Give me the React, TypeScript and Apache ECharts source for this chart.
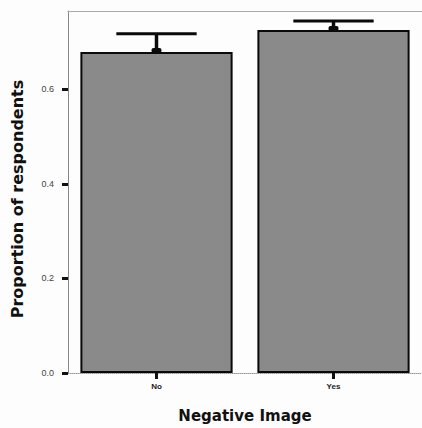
import React, { useEffect, useRef } from "react";
import * as echarts from "echarts";

const categories = ["No", "Yes"];
const proportions = [0.679, 0.726];
const errorUpper = [0.718, 0.745];
const yTicks = [0, 0.2, 0.4, 0.6];

export default function App() {
  const ref = useRef<HTMLDivElement>(null);
  useEffect(() => {
    if (!ref.current) return;
    const chart = echarts.init(ref.current, null, { renderer: "svg" });
    const errData = categories.map((_, i) => [i, proportions[i], errorUpper[i]]);
    chart.setOption({
      animation: false,
      backgroundColor: "#fdfdfd",
      textStyle: { fontFamily: "Liberation Sans, Arial, sans-serif" },
      grid: { left: 68, top: 11, right: -3, bottom: 53, containLabel: false },
      xAxis: [
        {
          type: "category",
          data: categories,
          name: "Negative Image",
          nameLocation: "middle",
          nameGap: 35,
          nameTextStyle: { fontSize: 15, fontWeight: "bold", color: "#111", fontFamily: "DejaVu Sans" },
          axisLine: { lineStyle: { color: "#999", type: "dotted", width: 1 } },
          axisTick: { show: true, alignWithLabel: true, length: 6, lineStyle: { color: "#111", width: 3 } },
          axisLabel: { fontSize: 8, fontWeight: "bold", color: "#222", margin: 9 },
        },
        {
          type: "category",
          data: categories,
          position: "top",
          axisLine: { lineStyle: { color: "#aaa", width: 1 } },
          axisTick: { show: false },
          axisLabel: { show: false },
        },
      ],
      yAxis: {
        type: "value",
        min: 0,
        max: 0.766,
        interval: 0.2,
        name: "Proportion of respondents",
        nameLocation: "middle",
        nameGap: 43,
        nameTextStyle: {
          fontSize: 16,
          fontWeight: "bold",
          color: "#111",
          fontFamily: "DejaVu Sans",
          padding: [0, 14, 0, 0],
        },
        axisLine: { show: true, lineStyle: { color: "#888", width: 1 } },
        axisTick: { show: true, length: 6, lineStyle: { color: "#111", width: 3 } },
        axisLabel: {
          fontSize: 9,
          color: "#444",
          margin: 14,
          showMaxLabel: false,
          formatter: (v: number) => (yTicks.some((t) => Math.abs(t - v) < 1e-6) ? v.toFixed(1) : ""),
        },
        splitLine: { show: false },
      },
      series: [
        {
          type: "bar",
          data: proportions,
          barWidth: "86%",
          itemStyle: { color: "#8a8a8a", borderColor: "#0a0a0a", borderWidth: 2 },
        },
        {
          type: "custom",
          data: errData,
          encode: { x: 0, y: [1, 2] },
          z: 5,
          renderItem: (params: any, api: any) => {
            const idx = api.value(0);
            const base = api.coord([idx, api.value(1)]);
            const top = api.coord([idx, api.value(2)]);
            const band = api.size([1, 0])[0];
            const half = band * 0.227;
            return {
              type: "group",
              children: [
                {
                  type: "line",
                  shape: { x1: base[0], y1: base[1], x2: top[0], y2: top[1] },
                  style: { stroke: "#0a0a0a", lineWidth: 3.5 },
                },
                {
                  type: "line",
                  shape: { x1: top[0] - half, y1: top[1], x2: top[0] + half, y2: top[1] },
                  style: { stroke: "#0a0a0a", lineWidth: 3 },
                },
                {
                  type: "rect",
                  shape: { x: base[0] - 5, y: base[1] - 4, width: 10, height: 5, r: 2 },
                  style: { fill: "#0a0a0a" },
                },
              ],
            };
          },
        },
      ],
    });
    return () => chart.dispose();
  }, []);
  return (
    <div
      ref={ref}
      style={{ position: "fixed", left: 0, top: 0, width: 422, height: 428 }}
    />
  );
}
